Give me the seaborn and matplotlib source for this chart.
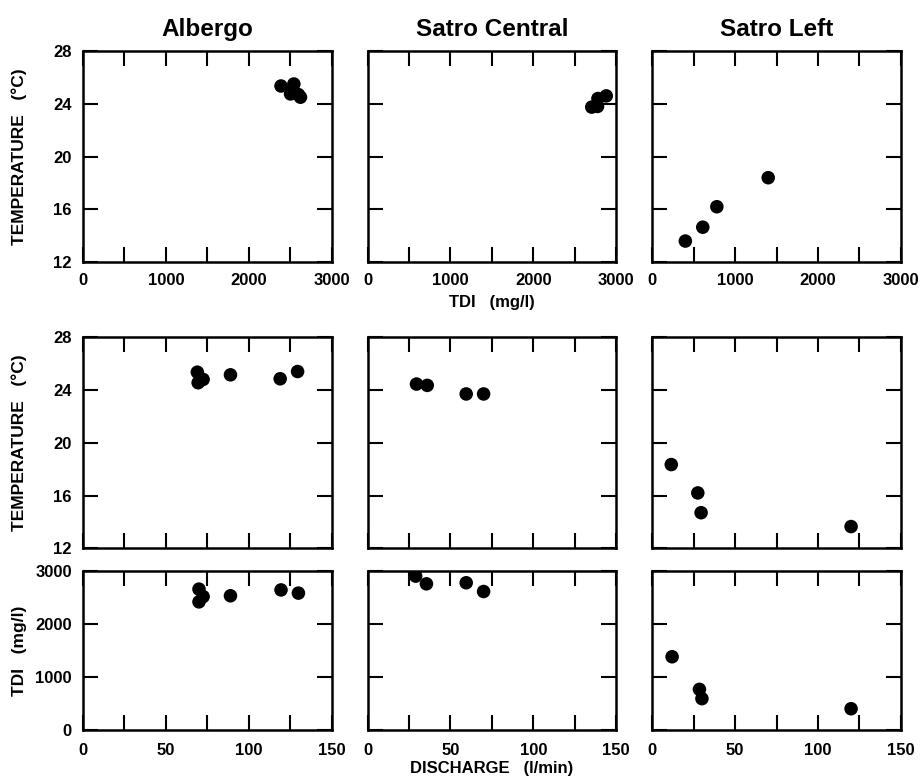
import matplotlib
matplotlib.use("Agg")
import matplotlib.pyplot as plt
import seaborn as sns
import pandas as pd

sites = ["Albergo", "Satro Central", "Satro Left"]

# top row: TDI (mg/l) vs temperature (C)
alb_tdi = [2390, 2545, 2525, 2505, 2600, 2625]
alb_temp_a = [25.35, 25.5, 25.0, 24.75, 24.7, 24.5]
cen_tdi = [2705, 2775, 2780, 2880]
cen_temp_a = [23.75, 23.8, 24.4, 24.6]
left_tdi = [400, 610, 780, 1400]
left_temp_a = [13.6, 14.65, 16.2, 18.4]

# middle row: discharge (l/min) vs temperature
alb_q_b = [69, 69.5, 72.5, 89, 119, 129.5]
alb_temp_b = [25.35, 24.55, 24.8, 25.15, 24.85, 25.4]
cen_q_b = [29.5, 36, 59.5, 70]
cen_temp_b = [24.45, 24.35, 23.7, 23.7]
left_q_b = [11.5, 27.5, 29.5, 120]
left_temp_b = [18.35, 16.2, 14.7, 13.65]

# bottom row: discharge vs TDI
alb_q_c = [70, 70, 72.5, 89, 119.5, 130]
alb_tdi_c = [2665, 2425, 2525, 2540, 2650, 2590]
cen_q_c = [29, 35.5, 59.5, 70]
cen_tdi_c = [2910, 2765, 2785, 2620]
left_q_c = [12, 28.5, 30, 120]
left_tdi_c = [1390, 775, 600, 410]

tdi_ticks = [0, 500, 1000, 1500, 2000, 2500, 3000]
q_ticks = [0, 25, 50, 75, 100, 125, 150]
temp_ticks = [12, 16, 20, 24, 28]
tdi_yticks = [0, 1000, 2000, 3000]

rows = [
    [(alb_tdi, alb_temp_a), (cen_tdi, cen_temp_a), (left_tdi, left_temp_a)],
    [(alb_q_b, alb_temp_b), (cen_q_b, cen_temp_b), (left_q_b, left_temp_b)],
    [(alb_q_c, alb_tdi_c), (cen_q_c, cen_tdi_c), (left_q_c, left_tdi_c)],
]

sns.set_style("ticks")
plt.rcParams["font.family"] = ["Liberation Sans", "DejaVu Sans"]
plt.rcParams["font.weight"] = "bold"
for key in ["text.color", "axes.labelcolor", "xtick.color", "ytick.color"]:
    plt.rcParams[key] = "black"

fig = plt.figure(figsize=(9.22, 7.79), dpi=100)
gs = fig.add_gridspec(5, 3, height_ratios=[211, 75, 211, 23, 159], hspace=0,
                      wspace=0.145, left=0.09, right=0.977, top=0.9345, bottom=0.0623)
grid_rows = [0, 2, 4]

for r, row in enumerate(rows):
    for c, (xv, yv) in enumerate(row):
        ax = fig.add_subplot(gs[grid_rows[r], c])
        df = pd.DataFrame({"x": xv, "y": yv})
        sns.scatterplot(data=df, x="x", y="y", ax=ax, color="black", s=95,
                        edgecolor="none", legend=False)
        if r == 0:
            ax.set_xlim(0, 3000)
            ax.set_xticks(tdi_ticks)
            ax.set_xticklabels([str(t) if t % 1000 == 0 else "" for t in tdi_ticks])
            ax.set_title(sites[c], fontsize=17.5, fontweight="bold", pad=11)
        else:
            ax.set_xlim(0, 150)
            ax.set_xticks(q_ticks)
            if r == 2:
                ax.set_xticklabels([str(t) if t % 50 == 0 else "" for t in q_ticks])
            else:
                ax.set_xticklabels([])
        if r < 2:
            ax.set_ylim(12, 28)
            ax.set_yticks(temp_ticks)
        else:
            ax.set_ylim(0, 3000)
            ax.set_yticks(tdi_yticks)
        if c > 0:
            ax.set_yticklabels([])
        ax.set_xlabel("")
        ax.set_ylabel("")
        ax.tick_params(direction="in", length=10.5, width=1.5, top=True, right=True,
                       labelsize=12)
        ax.tick_params(axis="x", pad=8 if r == 0 else 9)
        ax.tick_params(axis="y", pad=8)
        for lab in ax.get_xticklabels() + ax.get_yticklabels():
            lab.set_fontweight("bold")
        for sp in ax.spines.values():
            sp.set_visible(True)
            sp.set_linewidth(1.8)
            sp.set_color("black")
        if c == 0:
            ax.set_ylabel("TDI   (mg/l)" if r == 2 else "TEMPERATURE   (°C)",
                          fontsize=12.5, fontweight="bold")
            ax.yaxis.set_label_coords(-0.225, 0.5)
        if c == 1 and r == 0:
            ax.set_xlabel("TDI   (mg/l)", fontsize=12, fontweight="bold", labelpad=5)
        if c == 1 and r == 2:
            ax.set_xlabel("DISCHARGE   (l/min)", fontsize=12, fontweight="bold", labelpad=2)

fig.savefig("out.png", dpi=100)
